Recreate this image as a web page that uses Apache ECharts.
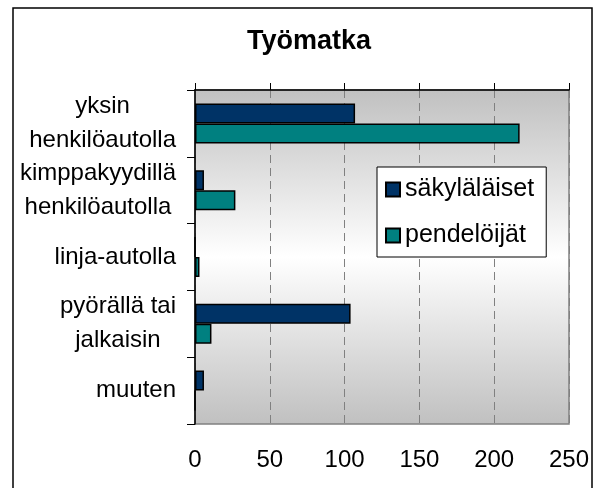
<!DOCTYPE html>
<html>
<head>
<meta charset="utf-8">
<script src="https://cdn.jsdelivr.net/npm/echarts@6/dist/echarts.min.js"></script>
<style>
  html, body { margin: 0; padding: 0; background: #fff; }
  #chart { width: 597px; height: 488px; }
</style>
</head>
<body>
<div id="chart"></div>
<script>
var categories = ['yksin\nhenkilöautolla', 'kimppakyydillä\nhenkilöautolla', 'linja-autolla', 'pyörällä tai\njalkaisin', 'muuten'];
var sakylalaiset = [107, 6, 0, 104, 6];
var pendeloijat = [217, 27, 3, 11, 0];
var xTicks = [0, 50, 100, 150, 200, 250];

var font = '"Liberation Sans", Arial, sans-serif';

var myChart = echarts.init(document.getElementById('chart'));

var option = {
    animation: false,
    textStyle: { fontFamily: font },
    title: {
        text: 'Työmatka',
        left: 304,
        textAlign: 'center',
        top: 23,
        textStyle: { fontSize: 27, fontWeight: 'bold', color: '#000', fontFamily: font }
    },
    graphic: [{
        type: 'rect',
        shape: { x: 13, y: 8, width: 579, height: 500 },
        style: { fill: 'none', stroke: '#000', lineWidth: 1.5 },
        silent: true
    }],
    legend: {
        orient: 'vertical',
        left: 377,
        top: 167,
        backgroundColor: '#fff',
        borderColor: '#000',
        borderWidth: 1,
        padding: [10, 12, 9, 8],
        itemGap: 21,
        itemWidth: 14,
        itemHeight: 14,
        icon: 'rect',
        textStyle: { fontSize: 25, color: '#000', fontFamily: font },
        data: ['säkyläläiset', 'pendelöijät']
    },
    grid: {
        left: 195, right: 28, top: 90, bottom: 64,
        show: true,
        borderColor: '#808080',
        borderWidth: 1.5,
        backgroundColor: new echarts.graphic.LinearGradient(0, 0, 0, 1, [
            { offset: 0, color: '#c0c0c0' },
            { offset: 0.5, color: '#ffffff' },
            { offset: 1, color: '#c0c0c0' }
        ])
    },
    xAxis: [{
        type: 'value',
        position: 'top',
        min: 0, max: 250, interval: 50,
        axisLine: { show: true, lineStyle: { color: '#000', width: 1.5 } },
        axisTick: { show: true, length: 7, lineStyle: { color: '#000' } },
        axisLabel: { show: false },
        splitLine: { show: true, lineStyle: { color: '#808080', type: [8, 5] } }
    }, {
        type: 'value',
        position: 'bottom',
        min: 0, max: 250, interval: 50,
        axisLine: { show: false },
        axisTick: { show: false },
        splitLine: { show: false },
        axisLabel: {
            margin: 24,
            fontSize: 24,
            color: '#000',
            fontFamily: font,
            formatter: function (v) { return xTicks.indexOf(v) >= 0 ? String(v) : ''; }
        }
    }],
    yAxis: {
        type: 'category',
        inverse: true,
        data: categories,
        axisLine: { show: true, lineStyle: { color: '#000', width: 1.5 } },
        axisTick: { show: true, length: 8, lineStyle: { color: '#000' } },
        axisLabel: {
            interval: 0,
            hideOverlap: false,
            margin: 19,
            color: '#000',
            fontSize: 24,
            fontFamily: font,
            lineHeight: 34,
            formatter: function (v) {
                return v.split('\n').map(function (s) { return '{c|' + s + '}'; }).join('\n');
            },
            rich: {
                c: { align: 'center', fontSize: 24, lineHeight: 34, color: '#000', fontFamily: font }
            }
        }
    },
    series: [{
        name: 'säkyläläiset',
        type: 'bar',
        xAxisIndex: 0,
        barWidth: 20,
        barGap: '0%',
        itemStyle: { color: '#003366', borderColor: '#000', borderWidth: 1.5 },
        data: sakylalaiset
    }, {
        name: 'pendelöijät',
        type: 'bar',
        xAxisIndex: 0,
        barWidth: 20,
        barGap: '0%',
        itemStyle: { color: '#008080', borderColor: '#000', borderWidth: 1.5 },
        data: pendeloijat
    }]
};

myChart.setOption(option);
</script>
</body>
</html>
